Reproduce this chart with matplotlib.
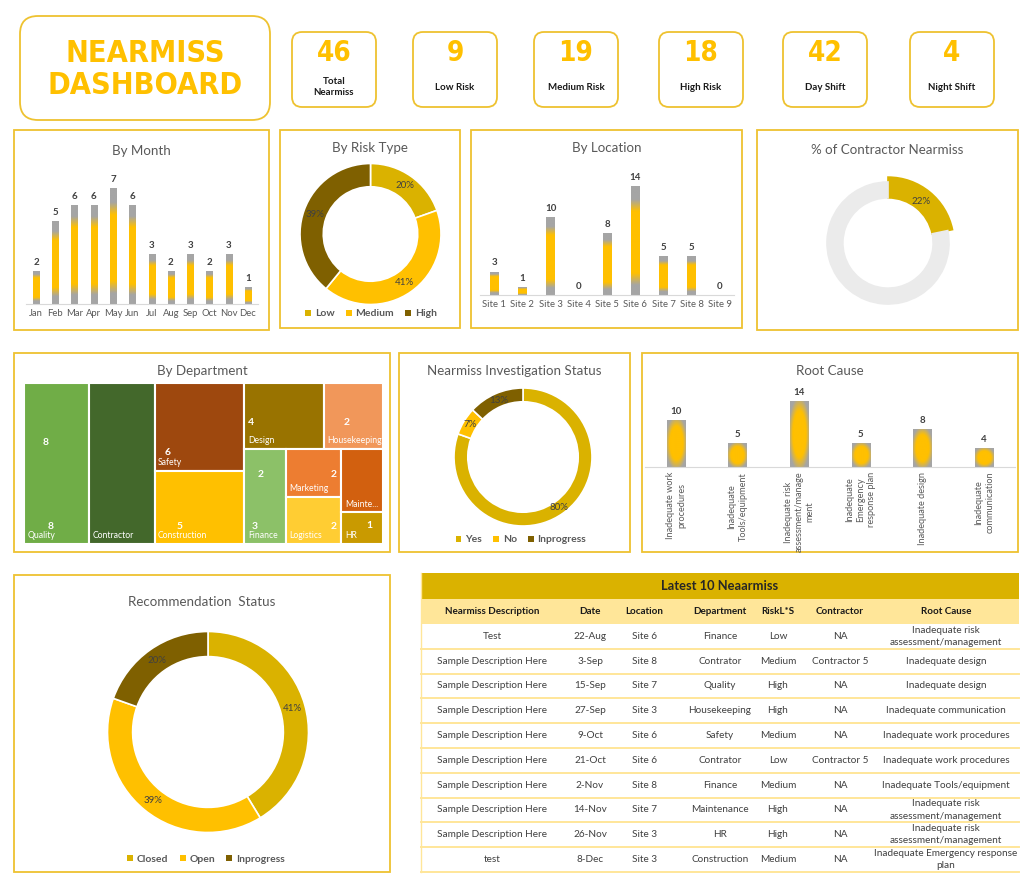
import matplotlib.pyplot as plt
import numpy as np
from matplotlib.patches import Rectangle, FancyBboxPatch, Patch
from matplotlib.colors import to_rgb

# ---------------- data ----------------
kpi_values = [46, 9, 19, 18, 42, 4]
kpi_labels = ['Total\nNearmiss', 'Low Risk', 'Medium Risk', 'High Risk', 'Day Shift', 'Night Shift']

months = ['Jan', 'Feb', 'Mar', 'Apr', 'May', 'Jun', 'Jul', 'Aug', 'Sep', 'Oct', 'Nov', 'Dec']
month_counts = [2, 5, 6, 6, 7, 6, 3, 2, 3, 2, 3, 1]

risk_types = ['Low', 'Medium', 'High']
risk_counts = [9, 19, 18]

sites = ['Site 1', 'Site 2', 'Site 3', 'Site 4', 'Site 5', 'Site 6', 'Site 7', 'Site 8', 'Site 9']
site_counts = [3, 1, 10, 0, 8, 14, 5, 5, 0]

contractor_split = [10, 36]   # contractor / others

departments = ['Quality', 'Contractor', 'Safety', 'Construction', 'Design', 'Housekeeping',
               'Finance', 'Marketing', 'Logistics', 'Maintenance', 'HR']
dept_counts = [8, 8, 6, 5, 4, 3, 3, 2, 2, 2, 1]
# numbers as Excel printed them inside the tiles
dept_numbers = [['8', '8'], [], ['6'], ['5'], ['4'], ['2'], ['2', '3'], ['2'], ['2'], [], ['1']]

invest_status = ['Yes', 'No', 'Inprogress']
invest_counts = [37, 3, 6]

root_causes = ['Inadequate work\nprocedures', 'Inadequate\nTools/equipment',
               'Inadequate risk\nassessment/manage\nment', 'Inadequate\nEmergency\nresponse plan',
               'Inadequate design', 'Inadequate\ncommunication']
root_counts = [10, 5, 14, 5, 8, 4]

rec_status = ['Closed', 'Open', 'Inprogress']
rec_counts = [19, 18, 9]

table_cols = ['Nearmiss Description', 'Date', 'Location', 'Department', 'RiskL*S', 'Contractor', 'Root Cause']
table_rows = [
    ['Test', '22-Aug', 'Site 6', 'Finance', 'Low', 'NA', 'Inadequate risk\nassessment/management'],
    ['Sample Description Here', '3-Sep', 'Site 8', 'Contrator', 'Medium', 'Contractor 5', 'Inadequate design'],
    ['Sample Description Here', '15-Sep', 'Site 7', 'Quality', 'High', 'NA', 'Inadequate design'],
    ['Sample Description Here', '27-Sep', 'Site 3', 'Housekeeping', 'High', 'NA', 'Inadequate communication'],
    ['Sample Description Here', '9-Oct', 'Site 6', 'Safety', 'Medium', 'NA', 'Inadequate work procedures'],
    ['Sample Description Here', '21-Oct', 'Site 6', 'Contrator', 'Low', 'Contractor 5', 'Inadequate work procedures'],
    ['Sample Description Here', '2-Nov', 'Site 8', 'Finance', 'Medium', 'NA', 'Inadequate Tools/equipment'],
    ['Sample Description Here', '14-Nov', 'Site 7', 'Maintenance', 'High', 'NA', 'Inadequate risk\nassessment/management'],
    ['Sample Description Here', '26-Nov', 'Site 3', 'HR', 'High', 'NA', 'Inadequate risk\nassessment/management'],
    ['test', '8-Dec', 'Site 3', 'Construction', 'Medium', 'NA', 'Inadequate Emergency response\nplan'],
]

# ---------------- style ----------------
GOLD = '#FFC000'
DGOLD = '#DAB200'
BROWN = '#7F6000'
GREY = '#A5A5A5'
BORDER = '#EEC230'
TXT = '#595959'
DARK = '#404040'
FONT = 'Lato'
plt.rcParams['font.family'] = [FONT, 'DejaVu Sans']

W, H = 1024, 886
fig = plt.figure(figsize=(W / 100, H / 100), dpi=100)
bg = fig.add_axes([0, 0, 1, 1], zorder=-1)
bg.set_xlim(0, W)
bg.set_ylim(H, 0)
bg.axis('off')


def ax_px(x0, y0, x1, y1):
    return fig.add_axes([x0 / W, 1 - y1 / H, (x1 - x0) / W, (y1 - y0) / H])


def panel(x0, y0, x1, y1, title=None, ty=None):
    bg.add_patch(Rectangle((x0, y0), x1 - x0, y1 - y0, fill=False, edgecolor=BORDER, lw=1.3))
    if title:
        bg.text((x0 + x1) / 2, ty, title, ha='center', va='center', fontsize=9.6, color=TXT)


def legend_at(x, y, labels, colors):
    handles = [Patch(facecolor=c, edgecolor='none') for c in colors]
    fig.legend(handles, labels, loc='center', bbox_to_anchor=(x / W, 1 - y / H), ncol=len(labels),
               frameon=False, handlelength=0.55, handleheight=0.55, handletextpad=0.35,
               columnspacing=1.1, prop={'size': 7.5, 'weight': 'bold'}, labelcolor=TXT)


def clean(ax):
    for s in ['top', 'right', 'left']:
        ax.spines[s].set_visible(False)
    ax.spines['bottom'].set_color('#D9D9D9')
    ax.set_yticks([])
    ax.tick_params(length=0, labelsize=6.8, labelcolor=TXT)
    ax.patch.set_alpha(0)


def v_gradient(n=200):
    stops = [(0, GREY), (0.09, GREY), (0.2, GOLD), (0.77, GOLD), (0.88, GREY), (1, GREY)]
    t = np.linspace(0, 1, n)
    pos = [p for p, _ in stops]
    cols = np.array([to_rgb(c) for _, c in stops])
    arr = np.stack([np.interp(t, pos, cols[:, k]) for k in range(3)], axis=-1)
    return arr[:, None, :]


def r_gradient(n=120):
    u = np.linspace(-1, 1, n)
    U, V = np.meshgrid(u, u)
    d = np.sqrt(U ** 2 + V ** 2)
    t = np.clip((d - 0.7) / 0.45, 0, 1)[..., None]
    return np.array(to_rgb(GOLD)) * (1 - t) + np.array(to_rgb(GREY)) * t


def gradient_bars(ax, labels, vals, width, img):
    bars = ax.bar(labels, vals, width=width, color='none', edgecolor='none')
    for b in bars:
        if b.get_height() <= 0:
            continue
        im = ax.imshow(img, extent=[b.get_x(), b.get_x() + b.get_width(), 0, b.get_height()],
                       origin='lower', aspect='auto', interpolation='bilinear', zorder=2)
        im.set_clip_path(b)
    ax.bar_label(bars, padding=3, fontsize=7, fontweight='bold', color=DARK)
    return bars


def donut(cx, cy, r, vals, colors, width, pctdist, pad=1.12):
    half = r * pad
    ax = ax_px(cx - half, cy - half, cx + half, cy + half)
    wedges, _, autotexts = ax.pie(vals, colors=colors, startangle=90, counterclock=False,
                                  autopct=lambda p: f'{p:.0f}%', pctdistance=pctdist,
                                  wedgeprops=dict(width=width, edgecolor='white', linewidth=1.2),
                                  textprops=dict(fontsize=7, color=DARK))
    ax.set_xlim(-pad, pad)
    ax.set_ylim(-pad, pad)
    return ax, wedges, autotexts


# ---------------- header ----------------
bg.add_patch(FancyBboxPatch((20, 16), 250, 104, boxstyle='round,pad=0,rounding_size=18',
                            fill=False, edgecolor=BORDER, lw=1.3))
bg.text(145, 53, 'NEARMISS', ha='center', va='center', fontsize=22, fontweight='bold',
        color=GOLD, family='DejaVu Sans', fontstretch='condensed')
bg.text(145, 85, 'DASHBOARD', ha='center', va='center', fontsize=22, fontweight='bold',
        color=GOLD, family='DejaVu Sans', fontstretch='condensed')

kpi_x = [292, 413, 534, 659, 783, 910]
for x, v, lab in zip(kpi_x, kpi_values, kpi_labels):
    bg.add_patch(FancyBboxPatch((x, 32), 84, 75, boxstyle='round,pad=0,rounding_size=10',
                                fill=False, edgecolor=BORDER, lw=1.3))
    bg.text(x + 42, 53, str(v), ha='center', va='center', fontsize=20, fontweight='bold',
            color=GOLD, family='DejaVu Sans', fontstretch='condensed')
    bg.text(x + 42, 87, lab, ha='center', va='center', fontsize=7, fontweight='bold',
            color='#1A1A1A', linespacing=1.4)

# ---------------- By Month ----------------
panel(14, 130, 269, 330, 'By Month', 151)
ax = ax_px(26.4, 165, 257.6, 304)
gradient_bars(ax, months, month_counts, 0.32, v_gradient())
clean(ax)
ax.set_xlim(-0.5, 11.5)
ax.set_ylim(0, 8.4)

# ---------------- By Risk Type ----------------
panel(280, 130, 460, 328, 'By Risk Type', 148)
donut(370.5, 234, 70.5, risk_counts, [DGOLD, GOLD, BROWN], 0.33, 0.84)
legend_at(371, 314, risk_types, [DGOLD, GOLD, BROWN])

# ---------------- By Location ----------------
panel(471, 130, 742, 328, 'By Location', 148)
ax = ax_px(480, 165, 734, 295)
gradient_bars(ax, sites, site_counts, 0.3, v_gradient())
clean(ax)
ax.set_xlim(-0.5, 8.5)
ax.set_ylim(0, 16.7)

# ---------------- % of Contractor ----------------
panel(757, 130, 1018, 330, '% of Contractor Nearmiss', 150)
ax, wedges, autotexts = donut(888, 243, 61, contractor_split, [DGOLD, '#EBEBEB'], 0.26, 0.87)
wedges[0].set_radius(1.08)
wedges[0].set_width(0.34)
wedges[0].set_edgecolor(DGOLD)
wedges[1].set_edgecolor('#EBEBEB')
autotexts[1].set_text('')

# ---------------- By Department (treemap) ----------------
panel(14, 353, 390, 552, 'By Department', 371)
structure = ('h', [0, 1, ('v', [2, 3]),
                   ('v', [('h', [4, 5]), ('h', [6, ('v', [7, 8]), ('v', [9, 10])])])])


def node_sum(n):
    if isinstance(n, int):
        return dept_counts[n]
    return sum(node_sum(c) for c in n[1])


def layout(n, x, y, w, h, out):
    if isinstance(n, int):
        out[n] = (x, y, w, h)
        return
    tot = node_sum(n)
    for c in n[1]:
        f = node_sum(c) / tot
        if n[0] == 'h':
            layout(c, x, y, w * f, h, out)
            x += w * f
        else:
            layout(c, x, y, w, h * f, out)
            y += h * f


rects = {}
layout(structure, 0, 0, 1, 1, rects)
tm_colors = ['#70AD47', '#43682B', '#9E480E', '#FFC000', '#997300', '#F1975A',
             '#8CC168', '#ED7D31', '#FFCD33', '#D2600F', '#C99A00']
num_pos = [[(0.28, 0.37), (0.36, 0.89)], [], [(0.11, 0.79)], [(0.25, 0.76)], [(0.05, 0.6)],
           [(0.34, 0.6)], [(0.32, 0.27), (0.17, 0.81)], [(0.8, 0.54)], [(0.8, 0.62)], [], [(0.6, 0.42)]]
short = {'Maintenance': 'Mainte...'}
ax = ax_px(24, 383, 383, 544)
ax.set_xlim(0, 1)
ax.set_ylim(1, 0)
ax.axis('off')
for i, name in enumerate(departments):
    x, y, w, h = rects[i]
    ax.add_patch(Rectangle((x, y), w, h, facecolor=tm_colors[i], edgecolor='white', lw=1.5))
    ax.annotate(short.get(name, name), (x, y + h), xytext=(2.5, 6), textcoords='offset points',
                ha='left', va='center', fontsize=6.2, color='white', annotation_clip=False,
                clip_on=False)
    for s, (fx, fy) in zip(dept_numbers[i], num_pos[i]):
        ax.text(x + fx * w, y + fy * h, s, ha='left', va='center', fontsize=7.5,
                fontweight='bold', color='white')

# ---------------- Investigation status ----------------
panel(399, 353, 630, 552, 'Nearmiss Investigation Status', 371)
donut(523, 457, 69, invest_counts, [DGOLD, GOLD, BROWN], 0.2, 0.9)
legend_at(521, 540, invest_status, [DGOLD, GOLD, BROWN])

# ---------------- Root cause ----------------
panel(642, 353, 1018, 552, 'Root Cause', 371)
ax = ax_px(645, 380, 1015, 467)
gradient_bars(ax, root_causes, root_counts, 0.3, r_gradient())
clean(ax)
ax.set_xlim(-0.5, 5.5)
ax.set_ylim(0, 18.5)
for lab in ax.get_xticklabels():
    lab.set_rotation(90)
    lab.set_fontsize(6.6)
    lab.set_multialignment('center')
    lab.set_linespacing(1.3)
    lab.set_va('top')
    lab.set_ha('center')

# ---------------- Recommendation status ----------------
panel(14, 575, 390, 872, 'Recommendation  Status', 602)
donut(208, 732, 100.5, rec_counts, [DGOLD, GOLD, BROWN], 0.25, 0.875)
legend_at(206, 859, rec_status, [DGOLD, GOLD, BROWN])

# ---------------- table ----------------
tx0, tx1 = 421, 1019
col_x = [492, 590, 644, 720, 778, 840, 946]
bg.add_patch(Rectangle((tx0, 573), tx1 - tx0, 26, facecolor=DGOLD, edgecolor='none'))
bg.text((tx0 + tx1) / 2, 586, 'Latest 10 Neaarmiss', ha='center', va='center', fontsize=9.3,
        fontweight='bold', color='#262626')
bg.add_patch(Rectangle((tx0, 599), tx1 - tx0, 25, facecolor='#FFE699', edgecolor='none'))
for x, c in zip(col_x, table_cols):
    bg.text(x, 611.5, c, ha='center', va='center', fontsize=7.1, fontweight='bold', color='#1A1A1A')
row_h = (872 - 624) / len(table_rows)
for r, row in enumerate(table_rows):
    yc = 624 + (r + 0.5) * row_h
    for x, val in zip(col_x, row):
        bg.text(x, yc, val, ha='center', va='center', fontsize=7.2, color=DARK, linespacing=1.45)
    bg.plot([tx0, tx1], [624 + (r + 1) * row_h] * 2, color='#FFE699', lw=1.4)
bg.plot([tx0, tx0], [573, 872], color='#FFE699', lw=1)

fig.savefig('out.png', dpi=100, facecolor='white')
